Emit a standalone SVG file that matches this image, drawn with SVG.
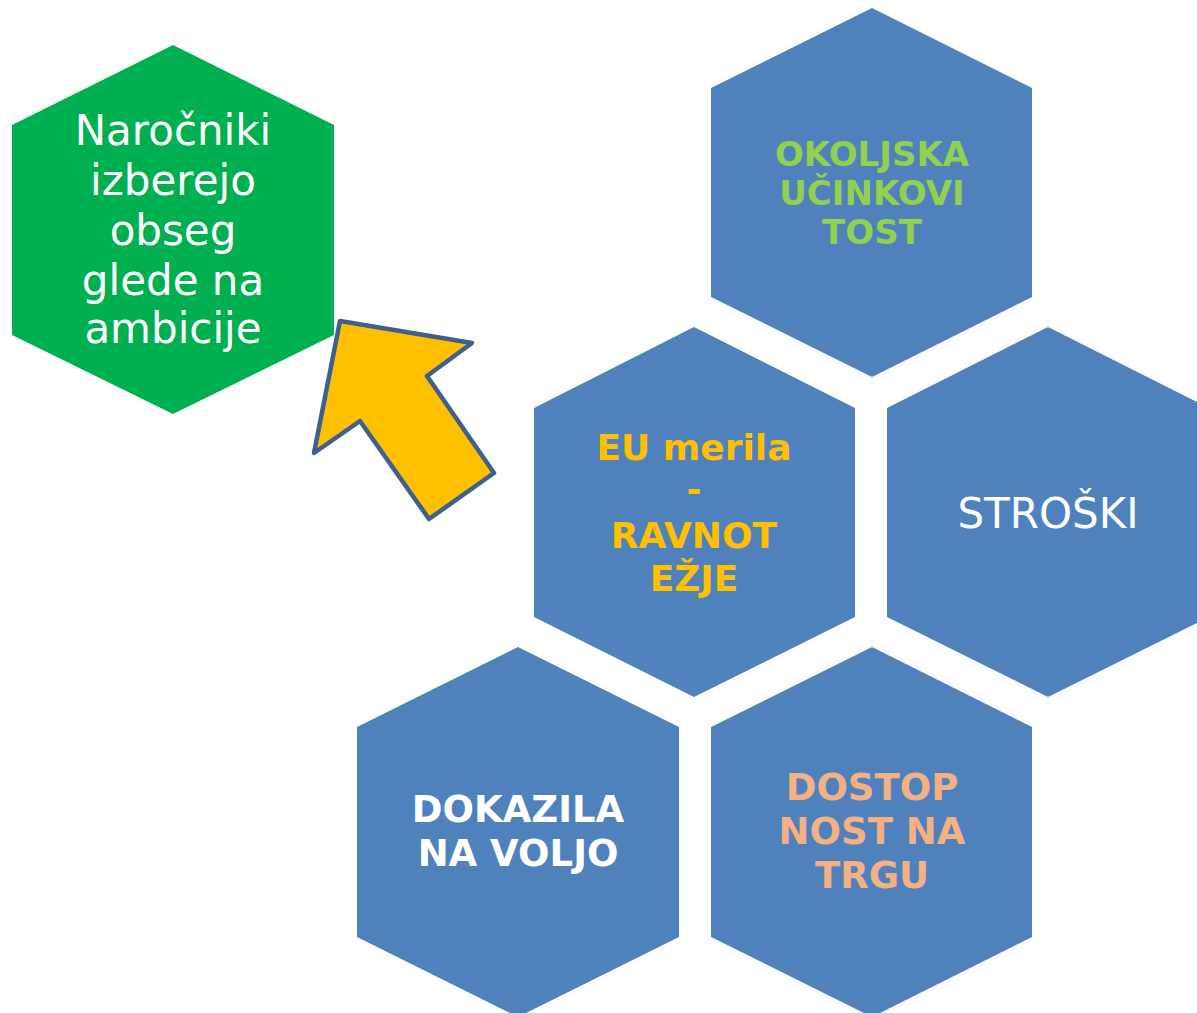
<svg xmlns="http://www.w3.org/2000/svg" width="1197" height="1013" viewBox="0 0 1197 1013">
<style>
.hex{fill:#4F81BD}
.t{font-family:"DejaVu Sans","Open Sans",sans-serif;text-anchor:middle}
.b{font-weight:bold}
</style>
<rect width="1197" height="1013" fill="#fff"/>
<g id="node-green">
<polygon points="173,45 334,125 334,335 173,414 12,335 12,125" fill="#00B050"/>
<text class="t" font-size="42" fill="#fff"><tspan x="173" y="145">Naročniki</tspan><tspan x="173" y="195">izberejo</tspan><tspan x="173" y="245">obseg</tspan><tspan x="173" y="295">glede na</tspan><tspan x="173" y="343">ambicije</tspan></text>
</g>
<g id="node-okoljska">
<polygon class="hex" points="872,8 1032,88 1032,297 872,377 711,297 711,88"/>
<text class="t b" font-size="34" fill="#92D050"><tspan x="872" y="166">OKOLJSKA</tspan><tspan x="872" y="205">UČINKOVI</tspan><tspan x="872" y="244">TOST</tspan></text>
</g>
<g id="node-eu">
<polygon class="hex" points="694,327 855,408 855,617 694,697 534,617 534,408"/>
<text class="t b" font-size="36" fill="#FFC000"><tspan x="694" y="460">EU merila</tspan><tspan x="694" y="502">-</tspan><tspan x="694" y="548">RAVNOT</tspan><tspan x="694" y="591">EŽJE</tspan></text>
</g>
<g id="node-stroski">
<polygon class="hex" points="1048,327 1209,408 1209,617 1048,697 887,617 887,408"/>
<text class="t" font-size="42" fill="#fff" x="1048" y="528">STROŠKI</text>
</g>
<g id="node-dokazila">
<polygon class="hex" points="518,647 679,727 679,937 518,1017 357,937 357,727"/>
<text class="t b" font-size="37" fill="#fff"><tspan x="518" y="822">DOKAZILA</tspan><tspan x="518" y="866">NA VOLJO</tspan></text>
</g>
<g id="node-dostopnost">
<polygon class="hex" points="872,647 1032,727 1032,937 872,1017 711,937 711,727"/>
<text class="t b" font-size="37" fill="#F4B183"><tspan x="872" y="800">DOSTOP</tspan><tspan x="872" y="844">NOST NA</tspan><tspan x="872" y="888">TRGU</tspan></text>
</g>
<g id="connectors">
<polygon points="340,321 472,343 427,376 494,473 429,519 360,421 314,453" fill="#FFC000" stroke="#3F5F8C" stroke-width="4.5" stroke-linejoin="round"/>
</g>
</svg>
